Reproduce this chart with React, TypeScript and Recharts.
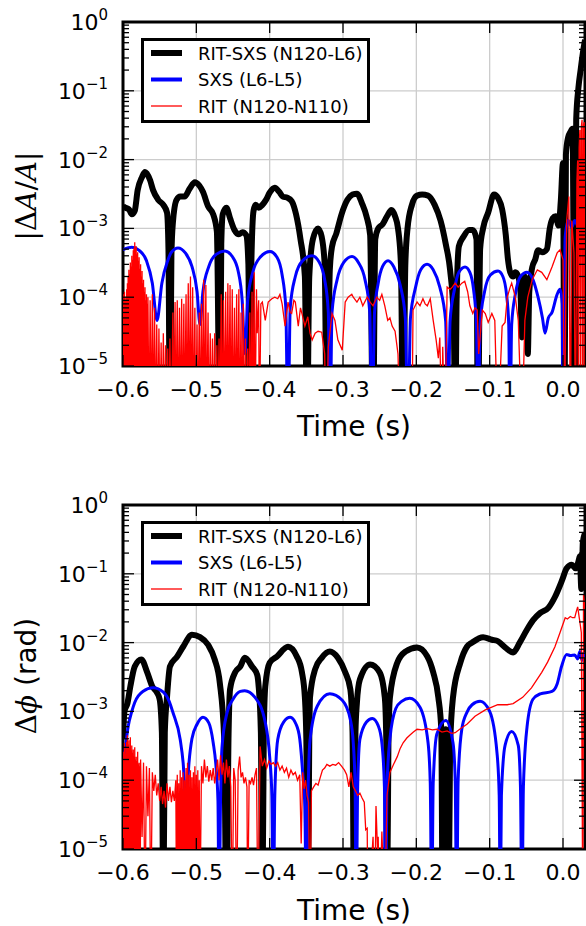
import React from 'react';
import { LineChart, Line, XAxis, YAxis, CartesianGrid, ReferenceArea, Legend } from 'recharts';

// [time (s), |dA/A|]
const ampRitSxs = [
  [-0.6, 2.1e-3], [-0.597, 2.0e-3], [-0.592, 1.9e-3], [-0.588, 1.6e-3], [-0.584, 1.8e-3], [-0.58, 3.6e-3],
  [-0.574, 5.6e-3], [-0.57, 6.6e-3], [-0.563, 5.0e-3], [-0.559, 3.6e-3], [-0.552, 2.6e-3], [-0.545, 2.2e-3],
  [-0.54, 1.7e-3], [-0.538, 5e-4], [-0.536, 1e-6], [-0.534, 4e-4], [-0.532, 1.2e-3], [-0.527, 2.6e-3],
  [-0.522, 2.9e-3], [-0.516, 2.9e-3], [-0.509, 3.8e-3], [-0.502, 4.7e-3], [-0.496, 4.2e-3], [-0.491, 3.4e-3],
  [-0.484, 2.1e-3], [-0.477, 1.6e-3], [-0.472, 9e-4], [-0.468, 1e-6], [-0.466, 6e-4], [-0.464, 1.6e-3],
  [-0.459, 2.0e-3], [-0.454, 1.4e-3], [-0.448, 9.5e-4], [-0.442, 8.2e-4], [-0.437, 8.8e-4], [-0.432, 8.0e-4],
  [-0.429, 3e-4], [-0.427, 1e-6], [-0.425, 3e-4], [-0.422, 1.8e-3], [-0.419, 2.2e-3], [-0.415, 2.0e-3],
  [-0.41, 2.2e-3], [-0.405, 2.6e-3], [-0.4, 3.3e-3], [-0.393, 3.9e-3], [-0.387, 3.4e-3], [-0.382, 2.9e-3],
  [-0.376, 2.8e-3], [-0.37, 2.5e-3], [-0.364, 1.6e-3], [-0.358, 7e-4], [-0.352, 2e-4], [-0.349, 1e-6],
  [-0.346, 2e-4], [-0.341, 7e-4], [-0.334, 1.0e-3], [-0.329, 7.5e-4], [-0.325, 3e-4], [-0.322, 1e-6],
  [-0.318, 2.5e-4], [-0.315, 5.4e-4], [-0.309, 8.5e-4], [-0.302, 1.6e-3], [-0.294, 2.6e-3], [-0.287, 3.1e-3],
  [-0.281, 3.2e-3], [-0.274, 2.3e-3], [-0.268, 1.5e-3], [-0.263, 8e-4], [-0.259, 1e-6], [-0.256, 7e-4],
  [-0.252, 1.0e-3], [-0.246, 1.15e-3], [-0.24, 1.5e-3], [-0.234, 1.85e-3], [-0.229, 1.5e-3], [-0.225, 1.0e-3],
  [-0.221, 3e-4], [-0.218, 1e-6], [-0.215, 3e-4], [-0.212, 1.0e-3], [-0.206, 2.2e-3], [-0.199, 3.0e-3],
  [-0.192, 3.1e-3], [-0.184, 3.0e-3], [-0.175, 2.2e-3], [-0.167, 1.3e-3], [-0.16, 6e-4], [-0.154, 2.5e-4],
  [-0.149, 5e-5], [-0.147, 1e-6], [-0.145, 1e-4], [-0.142, 5.5e-4], [-0.136, 7.5e-4], [-0.128, 9.5e-4],
  [-0.123, 9.5e-4], [-0.118, 7e-4], [-0.116, 1e-6], [-0.113, 5e-4], [-0.109, 1.0e-3], [-0.102, 1.7e-3],
  [-0.094, 3.1e-3], [-0.088, 2.7e-3], [-0.083, 1.9e-3], [-0.078, 8e-4], [-0.075, 3.5e-4], [-0.072, 2.3e-4],
  [-0.068, 2.0e-4], [-0.065, 2.3e-4], [-0.061, 2.0e-4], [-0.058, 1.2e-4], [-0.056, 2.6e-5], [-0.054, 1.2e-4],
  [-0.052, 2.0e-4], [-0.05, 8e-5], [-0.048, 1.5e-5], [-0.046, 1.2e-4], [-0.042, 2.7e-4], [-0.038, 3.5e-4],
  [-0.034, 4.8e-4], [-0.028, 4.5e-4], [-0.022, 5.0e-4], [-0.018, 1.0e-3], [-0.014, 1.4e-3], [-0.01, 1.5e-3],
  [-0.006, 1.1e-3], [-0.003, 2.5e-3], [0.0, 8.9e-3], [0.002, 1e-6], [0.004, 1.2e-2], [0.007, 2.1e-2],
  [0.01, 2.5e-2], [0.013, 2.8e-2], [0.016, 1e-6], [0.018, 3.8e-2], [0.021, 0.11], [0.024, 0.2],
  [0.027, 0.35], [0.03, 0.55],
];

const ampSxs = [
  [-0.6, 4.9e-4], [-0.588, 5.3e-4], [-0.578, 4.8e-4], [-0.568, 3.4e-4], [-0.56, 1.6e-4], [-0.5536, 4.6e-5],
  [-0.547, 1.6e-4], [-0.539, 3.4e-4], [-0.534, 4.5e-4], [-0.525, 5.2e-4], [-0.515, 4.4e-4], [-0.506, 2.8e-4],
  [-0.499, 1.2e-4], [-0.495, 4e-5], [-0.491, 1.2e-4], [-0.483, 2.8e-4], [-0.473, 4.2e-4], [-0.461, 4.7e-4],
  [-0.451, 3.9e-4], [-0.443, 2.4e-4], [-0.4375, 9e-5], [-0.4336, 1.5e-5], [-0.43, 9e-5], [-0.423, 2.3e-4],
  [-0.413, 3.8e-4], [-0.3995, 4.6e-4], [-0.39, 3.8e-4], [-0.383, 2.1e-4], [-0.378, 7e-5], [-0.375, 1e-6],
  [-0.372, 7e-5], [-0.365, 2e-4], [-0.355, 3.4e-4], [-0.3423, 4.0e-4], [-0.333, 3.3e-4], [-0.325, 1.8e-4],
  [-0.32, 6e-5], [-0.3177, 1e-6], [-0.315, 6e-5], [-0.308, 1.8e-4], [-0.299, 3.2e-4], [-0.2877, 3.9e-4],
  [-0.279, 3.2e-4], [-0.27, 1.8e-4], [-0.2635, 6e-5], [-0.2604, 1e-6], [-0.257, 6e-5], [-0.252, 1.6e-4],
  [-0.246, 2.8e-4], [-0.2386, 3.4e-4], [-0.231, 2.8e-4], [-0.222, 1.5e-4], [-0.215, 5e-5], [-0.2114, 1e-6],
  [-0.208, 5e-5], [-0.201, 1.4e-4], [-0.194, 2.5e-4], [-0.1854, 3.0e-4], [-0.177, 2.5e-4], [-0.168, 1.4e-4],
  [-0.16, 4.5e-5], [-0.1568, 1e-6], [-0.154, 4.5e-5], [-0.148, 1.3e-4], [-0.142, 2.3e-4], [-0.1336, 2.75e-4],
  [-0.127, 2.3e-4], [-0.122, 1.3e-4], [-0.118, 4e-5], [-0.1159, 1e-6], [-0.113, 4e-5], [-0.107, 1.2e-4],
  [-0.099, 2.1e-4], [-0.0886, 2.4e-4], [-0.082, 2.0e-4], [-0.077, 1.1e-4], [-0.074, 4e-5], [-0.0723, 1e-6],
  [-0.07, 4e-5], [-0.065, 1.1e-4], [-0.058, 2.0e-4], [-0.0491, 2.3e-4], [-0.041, 1.8e-4], [-0.034, 1.0e-4],
  [-0.028, 5e-5], [-0.0245, 3e-5], [-0.02, 5e-5], [-0.015, 6e-5], [-0.008, 1.1e-4], [-0.004, 1.3e-4],
  [-0.001, 8e-5], [0.0, 1e-6], [0.003, 7.5e-4], [0.007, 1.3e-3], [0.012, 1.05e-3], [0.016, 1.3e-3],
  [0.022, 1.0e-3], [0.03, 1.2e-3],
];

const ampRit = [
  [-0.6, 1.1e-4], [-0.5995, 1e-6], [-0.599, 8e-5], [-0.5985, 1e-6], [-0.598, 1.2e-4], [-0.5975, 2e-5],
  [-0.597, 1.0e-4], [-0.5965, 1e-6], [-0.596, 9e-5], [-0.5955, 1e-6], [-0.595, 1.3e-4], [-0.5945, 1e-6],
  [-0.594, 1.6e-4], [-0.5935, 1e-6], [-0.593, 2.0e-4], [-0.5925, 1e-6], [-0.592, 2.5e-4], [-0.5915, 1e-6],
  [-0.591, 2.2e-4], [-0.5905, 1e-6], [-0.59, 3.2e-4], [-0.5895, 1e-6], [-0.589, 2.8e-4], [-0.5885, 1e-6],
  [-0.588, 4.0e-4], [-0.5875, 1e-6], [-0.587, 3.5e-4], [-0.5865, 1e-6], [-0.586, 4.8e-4], [-0.5855, 1e-6],
  [-0.585, 5.2e-4], [-0.5845, 1e-6], [-0.584, 6.3e-4], [-0.5835, 1e-6], [-0.583, 5.0e-4], [-0.5825, 1e-6],
  [-0.582, 5.5e-4], [-0.5815, 1e-6], [-0.581, 4.2e-4], [-0.5805, 1e-6], [-0.58, 4.5e-4], [-0.5795, 1e-6],
  [-0.579, 3.4e-4], [-0.5785, 1e-6], [-0.578, 3.8e-4], [-0.5775, 1e-6], [-0.577, 2.6e-4], [-0.5765, 1e-6],
  [-0.576, 3.0e-4], [-0.5755, 1e-6], [-0.575, 2.0e-4], [-0.5745, 1e-6], [-0.574, 2.4e-4], [-0.5735, 1e-6],
  [-0.573, 1.6e-4], [-0.5725, 1e-6], [-0.572, 1.8e-4], [-0.5715, 1e-6], [-0.571, 1.2e-4], [-0.5705, 1e-6],
  [-0.57, 1.4e-4], [-0.5695, 1e-6], [-0.569, 9e-5], [-0.5685, 1e-6], [-0.568, 1.1e-4], [-0.5675, 1e-6],
  [-0.567, 8e-5], [-0.5665, 1e-6], [-0.566, 1.0e-4], [-0.5645, 1e-6],
  [-0.563, 9e-5], [-0.5615, 1e-6], [-0.56, 1.1e-4], [-0.5585, 1e-6], [-0.557, 7e-5], [-0.5555, 1e-6],
  [-0.554, 4e-5], [-0.5525, 1e-6], [-0.551, 3.5e-5], [-0.5495, 1e-6], [-0.548, 2.2e-5], [-0.5465, 1e-6],
  [-0.545, 3e-5], [-0.5435, 1e-6], [-0.542, 2e-5], [-0.5405, 1e-6], [-0.539, 1.8e-5], [-0.5375, 1e-6],
  [-0.536, 2.5e-5], [-0.5345, 1e-6], [-0.532, 6e-5], [-0.531, 1e-6], [-0.529, 8.5e-5], [-0.528, 1e-6],
  [-0.526, 9e-5], [-0.525, 1e-6], [-0.523, 7e-5], [-0.522, 1e-6], [-0.52, 9.5e-5], [-0.519, 1e-6],
  [-0.517, 8e-5], [-0.516, 1e-6], [-0.514, 1.1e-4], [-0.513, 1e-6], [-0.511, 1.6e-4], [-0.51, 1e-6],
  [-0.508, 2.0e-4], [-0.507, 1e-6], [-0.505, 1.4e-4], [-0.504, 1e-6], [-0.502, 7e-5], [-0.501, 1e-6],
  [-0.499, 4e-5], [-0.498, 1e-6], [-0.496, 6e-5], [-0.495, 1e-6], [-0.493, 8e-5], [-0.492, 1e-6],
  [-0.49, 1.8e-4], [-0.489, 1e-6], [-0.487, 1.5e-4], [-0.486, 1e-6], [-0.484, 6e-5], [-0.483, 1e-6],
  [-0.481, 3e-5], [-0.48, 1e-6], [-0.478, 2.5e-5], [-0.477, 1e-6], [-0.475, 3e-5], [-0.474, 1e-6],
  [-0.472, 2e-5], [-0.471, 1e-6], [-0.469, 2.5e-5], [-0.468, 1e-6], [-0.466, 1.1e-4], [-0.465, 1e-6],
  [-0.463, 9e-5], [-0.462, 1e-6], [-0.46, 1.2e-4], [-0.459, 1e-6], [-0.457, 1.6e-4], [-0.456, 1e-6],
  [-0.454, 1.5e-4], [-0.453, 1e-6], [-0.451, 1.3e-4], [-0.45, 1e-6], [-0.448, 7e-5], [-0.447, 1e-6],
  [-0.445, 1.1e-4], [-0.444, 1e-6], [-0.442, 1.3e-4], [-0.441, 1e-6], [-0.439, 6e-5], [-0.438, 1e-6],
  [-0.436, 8e-5], [-0.435, 1e-6], [-0.433, 2.5e-5], [-0.432, 1e-6], [-0.43, 1.8e-5], [-0.429, 1e-6],
  [-0.427, 6e-5], [-0.426, 1e-6], [-0.424, 1.2e-4], [-0.423, 1e-6], [-0.421, 2.3e-4], [-0.42, 1e-6],
  [-0.418, 1.3e-4], [-0.417, 3e-5], [-0.415, 9e-5], [-0.414, 1e-6], [-0.412, 8e-5], [-0.41, 8.5e-5],
  [-0.406, 4.6e-5], [-0.402, 8.5e-5], [-0.397, 9.5e-5], [-0.393, 1.0e-4], [-0.389, 9.5e-5], [-0.386, 1.1e-4],
  [-0.383, 8e-5], [-0.379, 3.8e-5], [-0.375, 8.5e-5], [-0.372, 6e-5], [-0.37, 5.8e-5], [-0.367, 9e-5],
  [-0.365, 8.5e-5], [-0.361, 3.8e-5], [-0.358, 7e-5], [-0.356, 5.8e-5], [-0.352, 3.8e-5], [-0.348, 5.2e-5],
  [-0.345, 3e-5], [-0.342, 2.4e-5], [-0.338, 3e-5], [-0.334, 3.2e-5], [-0.329, 3.1e-5], [-0.325, 1.5e-5],
  [-0.323, 1e-6], [-0.32, 1.9e-5], [-0.315, 5.8e-5], [-0.311, 4.6e-5], [-0.307, 2.4e-5], [-0.301, 1.7e-5],
  [-0.297, 8.5e-5], [-0.293, 1.0e-4], [-0.288, 1.1e-4], [-0.286, 1.0e-4], [-0.281, 8.5e-5], [-0.277, 1.0e-4],
  [-0.273, 7.5e-5], [-0.267, 1.0e-4], [-0.263, 8.5e-5], [-0.259, 7.5e-5], [-0.254, 1.0e-4], [-0.25, 9e-5],
  [-0.247, 1.1e-4], [-0.243, 7.5e-5], [-0.239, 4.6e-5], [-0.236, 5e-5], [-0.233, 3.8e-5], [-0.229, 3.2e-5],
  [-0.225, 1.5e-5], [-0.222, 1e-6], [-0.206, 1e-6], [-0.2045, 6.5e-5], [-0.199, 8.5e-5], [-0.195, 7.5e-5],
  [-0.191, 9.5e-5], [-0.188, 8e-5], [-0.185, 7.5e-5], [-0.181, 9.5e-5], [-0.177, 4.6e-5], [-0.173, 2.4e-5],
  [-0.17, 1.3e-5], [-0.168, 2.6e-5], [-0.165, 1e-6], [-0.164, 1.9e-5], [-0.161, 1e-6], [-0.158, 1.4e-4],
  [-0.154, 1.3e-4], [-0.151, 1.4e-4], [-0.147, 1.6e-4], [-0.143, 1.4e-4], [-0.138, 1.6e-4], [-0.134, 1.7e-4],
  [-0.13, 1.2e-4], [-0.127, 7.5e-5], [-0.123, 5.8e-5], [-0.12, 7e-5], [-0.117, 6.5e-5], [-0.115, 1.5e-5],
  [-0.11, 6.5e-5], [-0.106, 5.8e-5], [-0.102, 4.3e-5], [-0.097, 5.8e-5], [-0.093, 4.6e-5], [-0.089, 1e-6],
  [-0.083, 3.8e-5], [-0.079, 4.3e-5], [-0.076, 1.0e-4], [-0.072, 1.4e-4], [-0.07, 1.6e-4], [-0.065, 1.0e-4],
  [-0.061, 4.6e-5], [-0.056, 1e-6], [-0.052, 4.6e-5], [-0.048, 1.0e-4], [-0.042, 1.8e-4], [-0.035, 2.5e-4],
  [-0.029, 2.3e-4], [-0.022, 1.8e-4], [-0.015, 2.75e-4], [-0.008, 4.4e-4], [-0.004, 4.9e-4], [0.0, 3.5e-4],
  [0.002, 1e-6], [0.005, 1.3e-3], [0.008, 2.9e-3], [0.01, 1e-6], [0.012, 1.3e-3], [0.015, 4.4e-4],
  [0.017, 1e-6], [0.019, 5e-3], [0.02, 9.8e-3], [0.021, 1e-6], [0.022, 1.5e-2], [0.023, 2.7e-2],
  [0.024, 1e-6], [0.025, 3e-2], [0.026, 3.8e-2], [0.027, 1e-6], [0.028, 3.2e-2], [0.029, 3.5e-2],
  [0.03, 1e-6],
];

// [time (s), dphi (rad)]
const phaseRitSxs = [
  [-0.6, 4e-4], [-0.598, 1.0e-3], [-0.594, 1.3e-3], [-0.59, 2.3e-3], [-0.584, 4.5e-3], [-0.575, 5.7e-3],
  [-0.567, 3.7e-3], [-0.56, 2.3e-3], [-0.554, 1.9e-3], [-0.55, 1.5e-3], [-0.547, 5e-4], [-0.545, 1e-6],
  [-0.543, 5e-4], [-0.54, 1.6e-3], [-0.536, 4.5e-3], [-0.526, 6.3e-3], [-0.518, 8.7e-3], [-0.506, 1.3e-2],
  [-0.495, 1.2e-2], [-0.484, 9.3e-3], [-0.475, 5.7e-3], [-0.468, 2.6e-3], [-0.462, 4e-4], [-0.459, 1e-6],
  [-0.456, 5e-4], [-0.454, 2.1e-3], [-0.447, 3.7e-3], [-0.44, 4.5e-3], [-0.434, 6.0e-3], [-0.424, 4.5e-3],
  [-0.417, 3.4e-3], [-0.415, 2.3e-3], [-0.412, 5e-4], [-0.41, 1e-6], [-0.408, 5e-4], [-0.406, 2.3e-3],
  [-0.4, 5.1e-3], [-0.39, 6.3e-3], [-0.375, 8.7e-3], [-0.363, 6.3e-3], [-0.356, 3.7e-3], [-0.352, 1.6e-3],
  [-0.35, 4e-4], [-0.348, 1e-6], [-0.346, 4e-4], [-0.345, 1.6e-3], [-0.338, 4.1e-3], [-0.329, 6.0e-3],
  [-0.318, 7.4e-3], [-0.307, 6.0e-3], [-0.297, 3.7e-3], [-0.29, 2.1e-3], [-0.287, 5e-4], [-0.285, 1e-6],
  [-0.283, 5e-4], [-0.281, 1.35e-3], [-0.277, 2.9e-3], [-0.263, 4.8e-3], [-0.25, 3.7e-3], [-0.243, 1.6e-3],
  [-0.241, 4e-4], [-0.24, 1e-6], [-0.238, 4e-4], [-0.236, 1.6e-3], [-0.226, 5.1e-3], [-0.215, 7.4e-3],
  [-0.199, 8.5e-3], [-0.185, 6.3e-3], [-0.177, 3.7e-3], [-0.17, 1.6e-3], [-0.166, 5.5e-4], [-0.164, 1e-6],
  [-0.162, 3e-4], [-0.16, 5.5e-4], [-0.158, 3e-4], [-0.156, 1e-6], [-0.154, 3e-4], [-0.15, 1.6e-3],
  [-0.14, 5.1e-3], [-0.131, 8.7e-3], [-0.124, 1.0e-2], [-0.109, 1.2e-2], [-0.097, 1.1e-2], [-0.089, 1.05e-2],
  [-0.079, 8.5e-3], [-0.068, 7.2e-3], [-0.059, 1.0e-2], [-0.049, 1.55e-2], [-0.041, 2.1e-2], [-0.031, 2.7e-2],
  [-0.02, 3.2e-2], [-0.011, 4.6e-2], [-0.001, 8.2e-2], [0.005, 0.12], [0.012, 0.135], [0.017, 0.12],
  [0.021, 0.15], [0.023, 0.18], [0.025, 0.06], [0.026, 0.1], [0.027, 0.28], [0.03, 0.39],
];

const phaseSxs = [
  [-0.6, 1.5e-4], [-0.597, 2.8e-4], [-0.593, 6e-4], [-0.588, 1.0e-3], [-0.584, 1.35e-3], [-0.573, 1.95e-3],
  [-0.559, 2.2e-3], [-0.545, 1.9e-3], [-0.537, 1.4e-3], [-0.532, 9.7e-4], [-0.522, 3.9e-4], [-0.518, 1.8e-4],
  [-0.514, 4.2e-5], [-0.51, 1.8e-4], [-0.506, 4e-4], [-0.499, 6.5e-4], [-0.491, 8.2e-4], [-0.483, 6.8e-4],
  [-0.477, 3.5e-4], [-0.473, 1.5e-4], [-0.4705, 5e-5], [-0.469, 1e-6], [-0.467, 5e-5], [-0.465, 3e-4],
  [-0.458, 9.7e-4], [-0.45, 1.5e-3], [-0.44, 1.95e-3], [-0.434, 2.0e-3], [-0.42, 1.6e-3], [-0.406, 6.9e-4],
  [-0.4, 2.2e-4], [-0.397, 6e-5], [-0.395, 1e-6], [-0.393, 6e-5], [-0.389, 3.9e-4], [-0.381, 7e-4],
  [-0.372, 8.2e-4], [-0.364, 6.5e-4], [-0.359, 4e-4], [-0.355, 1.3e-4], [-0.352, 4e-5], [-0.35, 1e-6],
  [-0.348, 4e-5], [-0.345, 3.8e-4], [-0.335, 1.2e-3], [-0.318, 1.8e-3], [-0.301, 1.45e-3], [-0.29, 7.6e-4],
  [-0.286, 3.5e-4], [-0.2835, 8e-5], [-0.282, 1e-6], [-0.28, 8e-5], [-0.277, 3.9e-4], [-0.268, 7e-4],
  [-0.26, 7.9e-4], [-0.252, 6.2e-4], [-0.247, 3.5e-4], [-0.2435, 8e-5], [-0.242, 1e-6], [-0.24, 8e-5],
  [-0.236, 4e-4], [-0.228, 1.1e-3], [-0.22, 1.4e-3], [-0.209, 1.55e-3], [-0.195, 1.15e-3], [-0.184, 3.5e-4],
  [-0.181, 9e-5], [-0.179, 1e-6], [-0.177, 9e-5], [-0.172, 4.7e-4], [-0.16, 7.4e-4], [-0.15, 3.5e-4],
  [-0.147, 1e-4], [-0.145, 1e-6], [-0.143, 1e-4], [-0.138, 5.5e-4], [-0.131, 9.7e-4], [-0.124, 1.25e-3],
  [-0.113, 1.4e-3], [-0.1, 1.0e-3], [-0.09, 2.5e-4], [-0.087, 6e-5], [-0.0855, 1e-6], [-0.084, 6e-5],
  [-0.079, 3.2e-4], [-0.07, 5.1e-4], [-0.061, 3.2e-4], [-0.058, 8e-5], [-0.056, 1e-6], [-0.054, 8e-5],
  [-0.049, 6e-4], [-0.041, 1.5e-3], [-0.031, 1.8e-3], [-0.015, 1.95e-3], [-0.008, 2.5e-3], [-0.002, 4.5e-3],
  [0.005, 6.7e-3], [0.01, 6.5e-3], [0.016, 6.6e-3], [0.02, 5.8e-3], [0.023, 7.4e-3], [0.026, 5.5e-3],
  [0.028, 7.0e-3], [0.03, 6e-3],
];

const phaseRit = [
  [-0.6, 2.0e-4], [-0.5995, 1e-6], [-0.599, 2.6e-4], [-0.5985, 1e-6], [-0.598, 3.5e-4], [-0.5975, 1e-6],
  [-0.597, 2.4e-4], [-0.5965, 4e-5], [-0.596, 3.0e-4], [-0.5955, 1e-6], [-0.595, 3.6e-4], [-0.5945, 1e-6],
  [-0.594, 4.5e-4], [-0.5935, 1e-6], [-0.593, 3.3e-4], [-0.5925, 1e-6], [-0.592, 3.8e-4], [-0.5915, 1e-6],
  [-0.591, 3.0e-4], [-0.5905, 1e-6], [-0.59, 4.2e-4], [-0.5895, 6e-5], [-0.589, 2.7e-4], [-0.5885, 1e-6],
  [-0.588, 3.2e-4], [-0.5875, 1e-6], [-0.587, 2.5e-4], [-0.5865, 1e-6], [-0.586, 2.8e-4], [-0.5855, 8e-5],
  [-0.585, 2.2e-4], [-0.5845, 1e-6], [-0.584, 3.0e-4], [-0.5835, 1e-6], [-0.583, 2.0e-4], [-0.5825, 1e-6],
  [-0.582, 2.2e-4], [-0.5815, 1e-5], [-0.581, 1.9e-4], [-0.5805, 1e-6], [-0.58, 2.6e-4], [-0.5795, 1e-6],
  [-0.579, 1.7e-4], [-0.5785, 1e-6], [-0.578, 1.8e-4], [-0.5775, 2e-5], [-0.577, 1.6e-4], [-0.5765, 1e-6],
  [-0.576, 2.0e-4], [-0.574, 1.5e-5], [-0.572, 1.8e-4], [-0.57, 1e-6], [-0.568, 1.6e-4], [-0.566, 3e-5],
  [-0.564, 1.5e-4], [-0.562, 1e-6], [-0.56, 1.3e-4], [-0.558, 7e-5], [-0.556, 1.2e-4], [-0.554, 6e-5],
  [-0.552, 9e-5], [-0.55, 5e-5], [-0.548, 8e-5], [-0.546, 4.5e-5], [-0.544, 7e-5], [-0.542, 4e-5],
  [-0.54, 9e-5], [-0.538, 5e-5], [-0.536, 8e-5], [-0.534, 4.8e-5], [-0.532, 7e-5], [-0.53, 5e-5],
  [-0.528, 1.0e-4], [-0.527, 1e-6], [-0.526, 1.2e-4], [-0.525, 1e-6], [-0.524, 9e-5], [-0.523, 1e-6],
  [-0.522, 1.4e-4], [-0.521, 1e-6], [-0.52, 1.1e-4], [-0.519, 1e-6], [-0.518, 1.3e-4], [-0.517, 1e-6],
  [-0.516, 1.0e-4], [-0.515, 1e-6], [-0.514, 1.5e-4], [-0.513, 1e-6], [-0.512, 1.8e-4], [-0.511, 1e-6],
  [-0.51, 1.2e-4], [-0.509, 1e-6], [-0.508, 1.4e-4], [-0.507, 1e-6], [-0.506, 1.1e-4], [-0.505, 1e-6],
  [-0.504, 1.3e-4], [-0.503, 1e-6], [-0.502, 1.6e-4], [-0.501, 1e-6], [-0.5, 1.2e-4], [-0.499, 1e-6],
  [-0.498, 1.4e-4], [-0.497, 1e-6], [-0.496, 1.0e-4], [-0.495, 1e-6], [-0.493, 1.6e-4], [-0.491, 9e-5],
  [-0.489, 2.0e-4], [-0.487, 1.1e-4], [-0.485, 1.6e-4], [-0.483, 9.5e-5], [-0.481, 1.4e-4], [-0.479, 1.0e-4],
  [-0.477, 1.5e-4], [-0.475, 9e-5], [-0.473, 1.3e-4], [-0.471, 2.0e-4], [-0.469, 1.0e-4], [-0.467, 2.3e-4],
  [-0.465, 1.2e-4], [-0.463, 1.8e-4], [-0.461, 9e-5], [-0.459, 2.0e-4], [-0.457, 1.1e-4], [-0.455, 1.6e-4],
  [-0.453, 8e-5], [-0.451, 1e-6], [-0.449, 1.5e-4], [-0.447, 1.0e-4], [-0.445, 1e-6], [-0.443, 1.4e-4],
  [-0.441, 2.2e-4], [-0.439, 1.1e-4], [-0.437, 1.3e-4], [-0.435, 9e-5], [-0.433, 1.1e-4], [-0.431, 8e-5],
  [-0.43, 1e-6], [-0.428, 1.0e-4], [-0.426, 9e-5], [-0.424, 1.1e-4], [-0.422, 8.5e-5], [-0.42, 1.2e-4],
  [-0.418, 1.5e-4], [-0.416, 1e-6], [-0.413, 3.1e-4], [-0.41, 1.6e-4], [-0.407, 2.0e-4], [-0.404, 1.5e-4],
  [-0.401, 1.9e-4], [-0.398, 1.7e-4], [-0.395, 1.8e-4], [-0.392, 1.6e-4], [-0.389, 1.8e-4], [-0.386, 1.4e-4],
  [-0.383, 1.6e-4], [-0.38, 1.3e-4], [-0.377, 1.5e-4], [-0.374, 1.1e-4], [-0.371, 1.4e-4], [-0.368, 1.2e-4],
  [-0.365, 1.3e-4], [-0.362, 1.0e-4], [-0.359, 1.2e-4], [-0.357, 1.2e-5], [-0.355, 1.3e-4], [-0.353, 7.5e-5],
  [-0.351, 1.0e-4], [-0.349, 6e-5], [-0.347, 4.8e-5], [-0.345, 1e-6], [-0.343, 7e-5], [-0.34, 8e-5],
  [-0.337, 9e-5], [-0.334, 8.5e-5], [-0.331, 1.1e-4], [-0.328, 1.4e-4], [-0.325, 1.5e-4], [-0.322, 1.7e-4],
  [-0.318, 1.6e-4], [-0.314, 1.7e-4], [-0.31, 1.65e-4], [-0.306, 1.8e-4], [-0.302, 1.6e-4], [-0.298, 1.4e-4],
  [-0.295, 1.2e-4], [-0.292, 8e-5], [-0.289, 1.3e-4], [-0.286, 8e-5], [-0.283, 7e-5], [-0.28, 6e-5],
  [-0.277, 6.5e-5], [-0.274, 5.5e-5], [-0.271, 4.8e-5], [-0.269, 1.9e-5], [-0.267, 2e-5], [-0.266, 1e-6],
  [-0.259, 1.5e-5], [-0.257, 1e-6], [-0.255, 4.2e-5], [-0.253, 1e-5], [-0.252, 1.5e-5], [-0.25, 1e-6],
  [-0.247, 1.8e-5], [-0.243, 1e-6], [-0.24, 6e-5], [-0.236, 1.3e-4], [-0.231, 1.7e-4], [-0.226, 2.2e-4],
  [-0.222, 2.9e-4], [-0.218, 3.5e-4], [-0.213, 4.1e-4], [-0.209, 4.5e-4], [-0.204, 5.0e-4], [-0.199, 5.5e-4],
  [-0.192, 5.4e-4], [-0.185, 5.6e-4], [-0.178, 5.4e-4], [-0.172, 5.5e-4], [-0.165, 5.0e-4], [-0.158, 5.2e-4],
  [-0.152, 4.8e-4], [-0.147, 4.9e-4], [-0.14, 5.6e-4], [-0.131, 6.5e-4], [-0.12, 8.5e-4], [-0.106, 1.05e-3],
  [-0.089, 1.25e-3], [-0.076, 1.25e-3], [-0.068, 1.3e-3], [-0.055, 1.6e-3], [-0.043, 2.2e-3], [-0.029, 3.7e-3],
  [-0.021, 5.2e-3], [-0.011, 8.7e-3], [-0.004, 1.4e-2], [0.003, 2.3e-2], [0.006, 2.2e-2], [0.01, 2.4e-2],
  [0.013, 2.3e-2], [0.016, 2.3e-2], [0.018, 2.8e-2], [0.02, 3.3e-2], [0.023, 2.0e-2], [0.025, 1.4e-2],
  [0.027, 1e-6], [0.028, 5e-2], [0.03, 3e-2],
];

const seriesNames = ['RIT-SXS (N120-L6)', 'SXS (L6-L5)', 'RIT (N120-N110)'];
const seriesColors = ['#000000', '#0000ff', '#ff0000'];
const seriesWidths = [6, 3, 1.3];

const xTicks = [-0.6, -0.5, -0.4, -0.3, -0.2, -0.1, 0.0];
const yMajor = [1e-5, 1e-4, 1e-3, 1e-2, 1e-1, 1];
const yMinor = [2, 3, 4, 5, 6, 7, 8, 9];
const yTicks = [
  ...yMajor,
  ...yMajor.slice(0, -1).flatMap((d) => yMinor.map((m) => m * d)),
];

const W = 586;
const H = 443;
const PLOT_W = 462;
const PLOT_H = 344;
const FONT = '"DejaVu Sans", sans-serif';

const toPoints = (arr) => arr.map(([t, v]) => ({ t, v }));

const XTick = ({ x, y, payload }) => {
  const label = payload.value.toFixed(1).replace('-', '\u2212');
  return (
    <g>
      <line x1={x} x2={x} y1={y} y2={y - 11} stroke="#000" strokeWidth={1.3} />
      <line x1={x} x2={x} y1={y - PLOT_H} y2={y - PLOT_H + 11} stroke="#000" strokeWidth={1.3} />
      <text x={x} y={y + 31} textAnchor="middle" fontFamily={FONT} fontSize={22} fill="#000">
        {label}
      </text>
    </g>
  );
};

const YTick = ({ x, y, payload }) => {
  const lg = Math.log10(payload.value);
  const exp = Math.round(lg);
  const major = Math.abs(lg - exp) < 1e-6;
  const len = major ? 11 : 6;
  return (
    <g>
      <line x1={x} x2={x + len} y1={y} y2={y} stroke="#000" strokeWidth={1.3} />
      <line x1={x + PLOT_W} x2={x + PLOT_W - len} y1={y} y2={y} stroke="#000" strokeWidth={1.3} />
      {major && (
        <text x={x - 15} y={y + 8} textAnchor="end" fontFamily={FONT} fontSize={22} fill="#000">
          10
          <tspan dy={-10} fontSize={15}>
            {exp === 0 ? '0' : '\u2212' + String(-exp)}
          </tspan>
        </text>
      )}
    </g>
  );
};

const LegendBox = () => (
  <svg width={229} height={85} style={{ display: 'block' }}>
    <rect x={1.5} y={1.5} width={226} height={82} fill="#fff" stroke="#000" strokeWidth={3} />
    {seriesNames.map((name, i) => {
      const cy = 15 + i * 26.5;
      return (
        <g key={name}>
          <line x1={10} x2={41} y1={cy} y2={cy} stroke={seriesColors[i]} strokeWidth={seriesWidths[i] + (i === 1 ? 1 : 0)} />
          <text x={57} y={cy + 6.5} fontFamily={FONT} fontSize={18} fill="#000">
            {name}
          </text>
        </g>
      );
    })}
  </svg>
);

function Panel({ series }) {
  return (
    <LineChart width={W} height={H} margin={{ top: 22, right: 1, bottom: 37, left: 13 }}>
      <CartesianGrid
        stroke="#cccccc"
        strokeWidth={1.3}
        horizontalValues={yMajor}
        verticalValues={xTicks}
      />
      <XAxis
        type="number"
        dataKey="t"
        domain={[-0.6, 0.03]}
        ticks={xTicks}
        interval={0}
        allowDataOverflow
        axisLine={false}
        tickLine={false}
        tickSize={0}
        tickMargin={0}
        height={40}
        tick={<XTick />}
      />
      <YAxis
        type="number"
        scale="log"
        domain={[1e-5, 1]}
        ticks={yTicks}
        interval={0}
        allowDataOverflow
        axisLine={false}
        tickLine={false}
        tickSize={0}
        tickMargin={0}
        width={110}
        tick={<YTick />}
      />
      {series.map((s, i) => (
        <Line
          key={seriesNames[i]}
          data={toPoints(s)}
          dataKey="v"
          name={seriesNames[i]}
          type={i === 2 ? 'linear' : 'monotone'}
          stroke={seriesColors[i]}
          strokeWidth={seriesWidths[i]}
          dot={false}
          isAnimationActive={false}
        />
      ))}
      <ReferenceArea x1={-0.6} x2={0.03} y1={1e-5} y2={1} fill="none" stroke="#000" strokeWidth={3} />
      <Legend
        layout="vertical"
        verticalAlign="middle"
        align="center"
        wrapperStyle={{ left: 141, top: 38, width: 229, height: 85 }}
        content={() => <LegendBox />}
      />
    </LineChart>
  );
}

export default function App() {
  return (
    <div style={{ position: 'absolute', left: 0, top: 0, width: W, height: 926, background: '#fff' }}>
      <div style={{ position: 'absolute', left: 0, top: 0 }}>
        <Panel series={[ampRitSxs, ampSxs, ampRit]} />
      </div>
      <div style={{ position: 'absolute', left: 0, top: 483 }}>
        <Panel series={[phaseRitSxs, phaseSxs, phaseRit]} />
      </div>
      <svg width={W} height={926} style={{ position: 'absolute', left: 0, top: 0, pointerEvents: 'none' }}>
        <text x={354} y={436} textAnchor="middle" fontFamily={FONT} fontSize={28} fill="#000">
          Time (s)
        </text>
        <text x={354} y={920} textAnchor="middle" fontFamily={FONT} fontSize={28} fill="#000">
          Time (s)
        </text>
        <text transform="translate(36,196) rotate(-90)" textAnchor="middle" fontSize={28} fill="#000" fontFamily='"DejaVu Serif", serif'>
          |Δ<tspan fontStyle="italic">A</tspan>/<tspan fontStyle="italic">A</tspan>|
        </text>
        <text transform="translate(36,676) rotate(-90)" textAnchor="middle" fontSize={28} fill="#000" fontFamily={FONT}>
          <tspan fontFamily='"DejaVu Serif", serif'>Δ</tspan>
          <tspan fontFamily='"DejaVu Serif", serif' fontStyle="italic">ϕ</tspan> (rad)
        </text>
      </svg>
    </div>
  );
}
